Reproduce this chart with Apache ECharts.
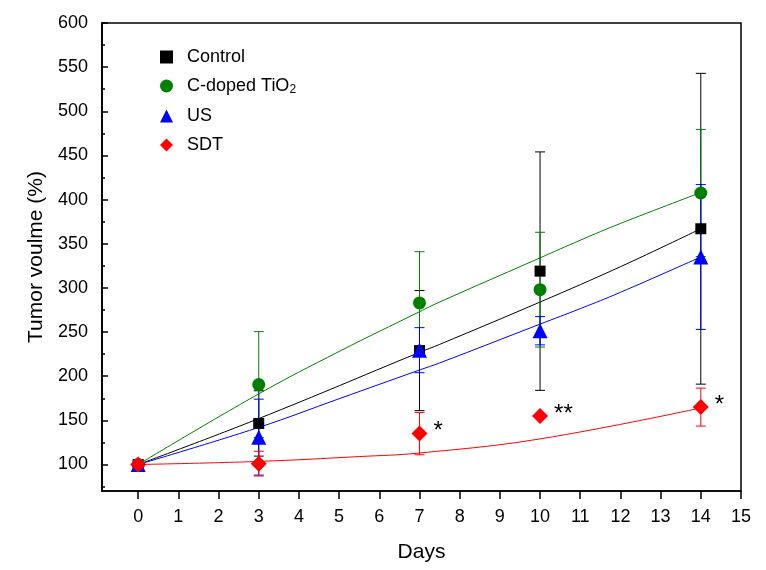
<!DOCTYPE html>
<html>
<head>
<meta charset="utf-8">
<script src="https://cdn.jsdelivr.net/npm/echarts@6/dist/echarts.min.js"></script>
<style>
html,body{margin:0;padding:0;background:#fff;}
#chart{width:766px;height:570px;}
</style>
</head>
<body>
<div id="chart"></div>
<script>
// ---- data ----
const days = [0, 3, 7, 10, 14];
const xTicks = [0,1,2,3,4,5,6,7,8,9,10,11,12,13,14,15];
const yTicks = [100,150,200,250,300,350,400,450,500,550,600];
const yMinorTicks = [75,125,175,225,275,325,375,425,475,525,575];

const controlVals = [100, 146.5, 229, 319, 367];
const controlErr  = [0, 37, 68, 135, 176];
const tio2Vals    = [100, 190.5, 283, 298, 407.5];
const tio2Err     = [0, 60, 58, 65, 72];
const usVals      = [100, 131, 229.5, 251.5, 335];
const usErr       = [0, 43, 25.5, 16, 82];
const sdtVals     = [100, 101, 135, 155, 165];
const sdtErr      = [0, 14, 24, 2, 21.5];
const sdtMarks    = ['', '', '*', '**', '*'];

// fitted curves
const controlFitX = [0, 3, 7, 7.5, 10, 12, 14];
const controlFitY = [100, 152, 227, 236, 284, 324, 367];
const tio2FitX    = [0, 3, 5, 7, 7.5, 10, 11, 12, 14];
const tio2FitY    = [100, 180, 228, 273, 284, 334, 354, 373, 408];
const usFitX      = [0, 3, 5, 7, 7.5, 10, 11, 12, 14];
const usFitY      = [100, 142, 174.5, 207, 215, 259, 276.5, 295, 335];
const sdtFitX     = [0, 3, 5.5, 7, 10, 14];
const sdtFitY     = [100, 103.5, 109, 113, 129, 164];

const names = ['Control', 'C-doped TiO2', 'US', 'SDT'];
const colors = ['#000000', '#008000', '#0000ff', '#ff0000'];
const FONT = "'Liberation Sans', Arial, sans-serif";

function pairs(xs, ys){ return xs.map((x,i)=>[x, ys[i]]); }
function errData(vals, errs){ return days.map((d,i)=>[d, vals[i]-errs[i], vals[i]+errs[i]]).filter((r,i)=>errs[i]>0); }

function errSeries(vals, errs, color, z){
  return {
    type: 'custom',
    name: 'err',
    z: z,
    data: errData(vals, errs),
    encode: {x: 0, y: [1, 2]},
    silent: true,
    renderItem: function(params, api){
      const lo = api.coord([api.value(0), api.value(1)]);
      const hi = api.coord([api.value(0), api.value(2)]);
      const w = 5;
      const st = {stroke: color, lineWidth: 1};
      return {type: 'group', children: [
        {type:'line', shape:{x1:hi[0], y1:hi[1], x2:lo[0], y2:lo[1]}, style: st},
        {type:'line', shape:{x1:hi[0]-w, y1:hi[1], x2:hi[0]+w, y2:hi[1]}, style: st},
        {type:'line', shape:{x1:lo[0]-w, y1:lo[1], x2:lo[0]+w, y2:lo[1]}, style: st}
      ]};
    }
  };
}
function fitSeries(xs, ys, color, z){
  return {type:'line', name:'fit', data: pairs(xs, ys), smooth: 0.4, showSymbol:false, symbol:'none',
    lineStyle:{color: color, width: 1}, z: z, silent: true};
}
function markSeries(name, vals, color, symbol, size, z, extra){
  return Object.assign({type:'scatter', name: name, data: pairs(days, vals), symbol: symbol, symbolSize: size,
    itemStyle:{color: color, opacity: 1}, z: z}, extra || {});
}

function yAxisBase(ticks, len){
  return {
    type: 'value', min: 70, max: 600, position: 'left',
    axisLine: {show: true, onZero: false, lineStyle: {color: '#000', width: 1.5}},
    axisTick: {show: true, inside: true, length: len, lineStyle: {color: '#000', width: 1.5}, customValues: ticks},
    splitLine: {show: false}
  };
}

const chart = echarts.init(document.getElementById('chart'));
chart.setOption({
  animation: false,
  backgroundColor: '#fff',
  textStyle: {fontFamily: FONT},
  grid: {left: 102, right: 25, top: 23, bottom: 79, show: true, borderColor: '#000', borderWidth: 1.5, containLabel: false},
  legend: {
    data: names.map((n, i) => ({name: n, icon: ['rect','circle','triangle','diamond'][i]})),
    orient: 'vertical', left: 160, top: 48, itemWidth: 13, itemHeight: 13, itemGap: 11, padding: 0,
    selectedMode: false,
    textStyle: {fontSize: 18, color: '#000', fontFamily: FONT, padding: [0, 0, 0, 9],
      rich: {sub: {fontSize: 12, verticalAlign: 'bottom', padding: [8,0,0,0], color:'#000', fontFamily: FONT}}},
    formatter: function(n){ return n === 'C-doped TiO2' ? 'C-doped TiO{sub|2}' : n; }
  },
  xAxis: {
    type: 'value', min: -0.9, max: 15,
    name: 'Days', nameLocation: 'middle', nameGap: 51,
    nameTextStyle: {fontSize: 21, color: '#000', fontFamily: FONT},
    axisLine: {show: true, onZero: false, lineStyle: {color: '#000', width: 1.5}},
    axisTick: {show: true, inside: false, length: 8, lineStyle: {color: '#000', width: 1.5}, customValues: xTicks},
    axisLabel: {fontSize: 18, color: '#000', margin: 17, customValues: xTicks, fontFamily: FONT},
    splitLine: {show: false}
  },
  yAxis: [
    Object.assign(yAxisBase(yTicks, 6), {
      name: 'Tumor voulme (%)', nameLocation: 'middle', nameGap: 45, nameRotate: 90,
      nameTextStyle: {fontSize: 21, color: '#000', fontFamily: FONT},
      axisLabel: {fontSize: 18, color: '#000', margin: 14, customValues: yTicks, fontFamily: FONT}
    }),
    Object.assign(yAxisBase(yMinorTicks, 3), {
      axisLabel: {show: false, customValues: yMinorTicks}
    })
  ],
  series: [
    fitSeries(controlFitX, controlFitY, colors[0], 3),
    fitSeries(tio2FitX, tio2FitY, colors[1], 3),
    fitSeries(usFitX, usFitY, colors[2], 3),
    fitSeries(sdtFitX, sdtFitY, colors[3], 3),
    errSeries(controlVals, controlErr, colors[0], 4),
    errSeries(tio2Vals, tio2Err, colors[1], 5),
    errSeries(usVals, usErr, colors[2], 6),
    errSeries(sdtVals, sdtErr, colors[3], 7),
    markSeries(names[0], controlVals, colors[0], 'rect', 11, 8),
    markSeries(names[1], tio2Vals, colors[1], 'circle', 13, 9),
    markSeries(names[2], usVals, colors[2], 'triangle', 15, 10),
    markSeries(names[3], sdtVals, colors[3], 'diamond', 16, 11, {
      label: {show: true, position: 'right', distance: 6, offset: [0, -2],
        fontSize: 24, color: '#000', fontFamily: FONT,
        formatter: function(p){ return sdtMarks[p.dataIndex]; }}
    })
  ]
});
</script>
</body>
</html>
